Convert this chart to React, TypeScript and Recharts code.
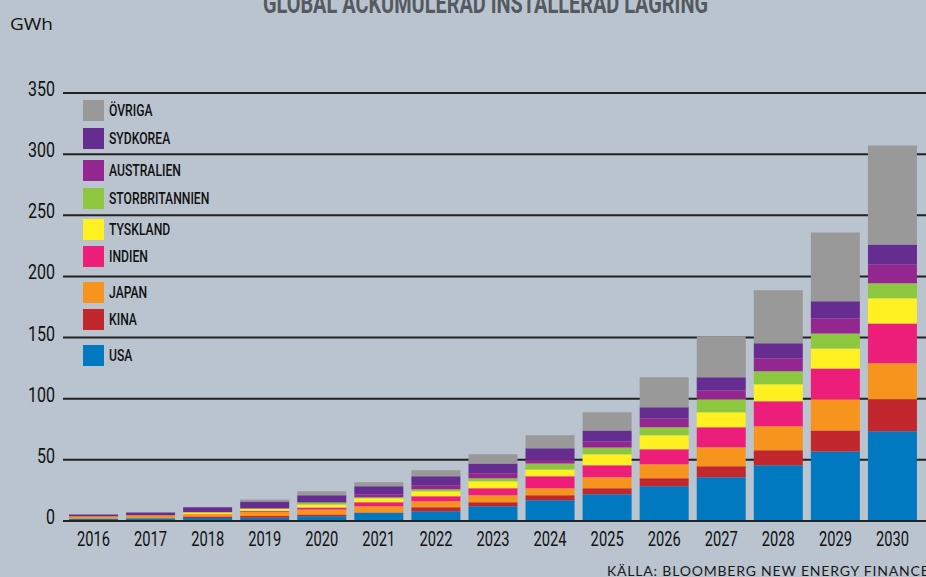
import { BarChart, Bar, XAxis, YAxis, CartesianGrid } from "recharts";

// Global cumulative installed storage, GWh
const YEARS = ["2016", "2017", "2018", "2019", "2020", "2021", "2022", "2023", "2024", "2025", "2026", "2027", "2028", "2029", "2030"];
const USA = [1.9, 2.2, 2.5, 2.7, 3.8, 6.5, 7.9, 12.0, 16.9, 21.8, 28.4, 35.7, 45.5, 56.9, 73.4];
const KINA = [0, 0, 1.1, 1.4, 1.6, 0.5, 3.3, 3.3, 4.1, 4.9, 6.5, 9.0, 12.3, 17.2, 26.1];
const JAPAN = [1.9, 2.4, 2.2, 3.4, 4.1, 5.0, 4.9, 5.7, 5.7, 9.0, 11.5, 15.6, 19.6, 25.4, 29.4];
const INDIEN = [0, 0, 0, 0.6, 1.6, 3.3, 4.1, 5.7, 9.8, 9.8, 12.2, 16.3, 20.5, 25.3, 32.7];
const TYSKLAND = [0, 0, 1.4, 2.2, 2.4, 3.3, 4.1, 5.8, 5.7, 9.0, 11.5, 12.3, 13.9, 16.3, 20.5];
const STORBRITANNIEN = [0, 0, 0, 0, 1.6, 0.8, 1.6, 2.4, 4.9, 5.7, 6.5, 10.6, 10.6, 12.3, 12.3];
const AUSTRALIEN = [0, 0, 0, 0, 0.3, 2.4, 3.3, 4.1, 3.3, 4.9, 7.4, 7.4, 10.6, 12.3, 15.5];
const SYDKOREA = [1.6, 2.4, 4.1, 5.7, 5.7, 6.6, 7.3, 8.1, 9.0, 9.0, 9.0, 10.6, 12.3, 13.9, 16.3];
const OVRIGA = [0, 0, 0, 1.6, 3.3, 3.2, 5.0, 7.4, 10.7, 14.8, 24.5, 33.5, 43.3, 56.4, 80.9];
const Y_TICKS = [0, 50, 100, 150, 200, 250, 300, 350];

// bottom-up stacking order
const SERIES = [
  { key: "usa", name: "USA", values: USA, color: "#0079c1" },
  { key: "kina", name: "KINA", values: KINA, color: "#c1272d" },
  { key: "japan", name: "JAPAN", values: JAPAN, color: "#f7941d" },
  { key: "indien", name: "INDIEN", values: INDIEN, color: "#ed1e7a" },
  { key: "tyskland", name: "TYSKLAND", values: TYSKLAND, color: "#fff022" },
  { key: "uk", name: "STORBRITANNIEN", values: STORBRITANNIEN, color: "#8dc63f" },
  { key: "aus", name: "AUSTRALIEN", values: AUSTRALIEN, color: "#93278f" },
  { key: "kor", name: "SYDKOREA", values: SYDKOREA, color: "#662d91" },
  { key: "ovr", name: "ÖVRIGA", values: OVRIGA, color: "#999999" },
];

const data = YEARS.map((year, i) => {
  const row: Record<string, string | number> = { year };
  SERIES.forEach((s) => (row[s.key] = s.values[i]));
  return row;
});

const BG = "#b9c4cf";
const FONT = "Roboto, 'DejaVu Sans', sans-serif";

// legend rows sit between the grid lines, so tops are uneven (top to bottom: ÖVRIGA ... USA)
const LEGEND_TOPS = [100, 128, 160, 188, 219, 246, 282, 309, 345];

function ChartLegend() {
  const items = [...SERIES].reverse();
  return (
    <div style={{ position: "absolute", left: 0, top: 0, pointerEvents: "none" }}>
      {items.map((s, i) => (
        <div
          key={s.key}
          style={{ position: "absolute", left: 83, top: LEGEND_TOPS[i], height: 21, display: "flex", alignItems: "center" }}
        >
          <span style={{ width: 21, height: 21, background: s.color, display: "inline-block", flexShrink: 0 }} />
          <span
            style={{
              marginLeft: 5,
              fontFamily: FONT,
              fontSize: 16,
              fontWeight: 500,
              color: "#111",
              whiteSpace: "nowrap",
              lineHeight: "21px",
              display: "inline-block",
              transform: "scaleX(0.76)",
              transformOrigin: "left center",
            }}
          >
            {s.name}
          </span>
        </div>
      ))}
    </div>
  );
}

// condensed look: squeeze the glyphs horizontally
function YTick({ x, y, payload }: any) {
  return (
    <text transform={`translate(${x},${y + 3}) scale(0.8,1)`} textAnchor="end" fontFamily={FONT} fontSize={20} fill="#111">
      {payload.value}
    </text>
  );
}

function XTick({ x, y, payload }: any) {
  return (
    <text transform={`translate(${x},${y + 17}) scale(0.7,1)`} textAnchor="middle" fontFamily={FONT} fontSize={21} fill="#111">
      {payload.value}
    </text>
  );
}

export default function App() {
  return (
    <div style={{ position: "absolute", left: 0, top: 0, width: 926, height: 577, background: BG, overflow: "hidden" }}>
      <BarChart width={926} height={577} data={data} margin={{ top: 93, right: 0, bottom: 26, left: 0 }}>
        <CartesianGrid vertical={false} stroke="#222" strokeWidth={2} />
        <XAxis
          dataKey="year"
          height={30}
          padding={{ left: 2, right: 5 }}
          axisLine={{ stroke: "#222", strokeWidth: 2 }}
          tickLine={false}
          tick={<XTick />}
          interval={0}
        />
        <YAxis
          width={63}
          domain={[0, 350]}
          ticks={Y_TICKS}
          axisLine={false}
          tickLine={false}
          tick={<YTick />}
        />
        {SERIES.map((s) => (
          <Bar key={s.key} dataKey={s.key} name={s.name} stackId="a" fill={s.color} barSize={49} isAnimationActive={false} />
        ))}
      </BarChart>
      <ChartLegend />
      <svg width={926} height={577} style={{ position: "absolute", left: 0, top: 0, pointerEvents: "none" }}>
        <text x={263} y={13} fontFamily={FONT} fontWeight="bold" fontSize={28} fill="#555a60" textLength={445} lengthAdjust="spacingAndGlyphs">
          GLOBAL ACKUMULERAD INSTALLERAD LAGRING
        </text>
        <text x={10} y={30} fontFamily="'Open Sans', sans-serif" fontSize={17} fill="#111" textLength={43} lengthAdjust="spacingAndGlyphs">
          GWh
        </text>
        <text x={607} y={576} fontFamily="Lato, sans-serif" fontSize={14} fill="#1a1a1a" letterSpacing={0.8}>
          KÄLLA: BLOOMBERG NEW ENERGY FINANCE
        </text>
      </svg>
    </div>
  );
}
